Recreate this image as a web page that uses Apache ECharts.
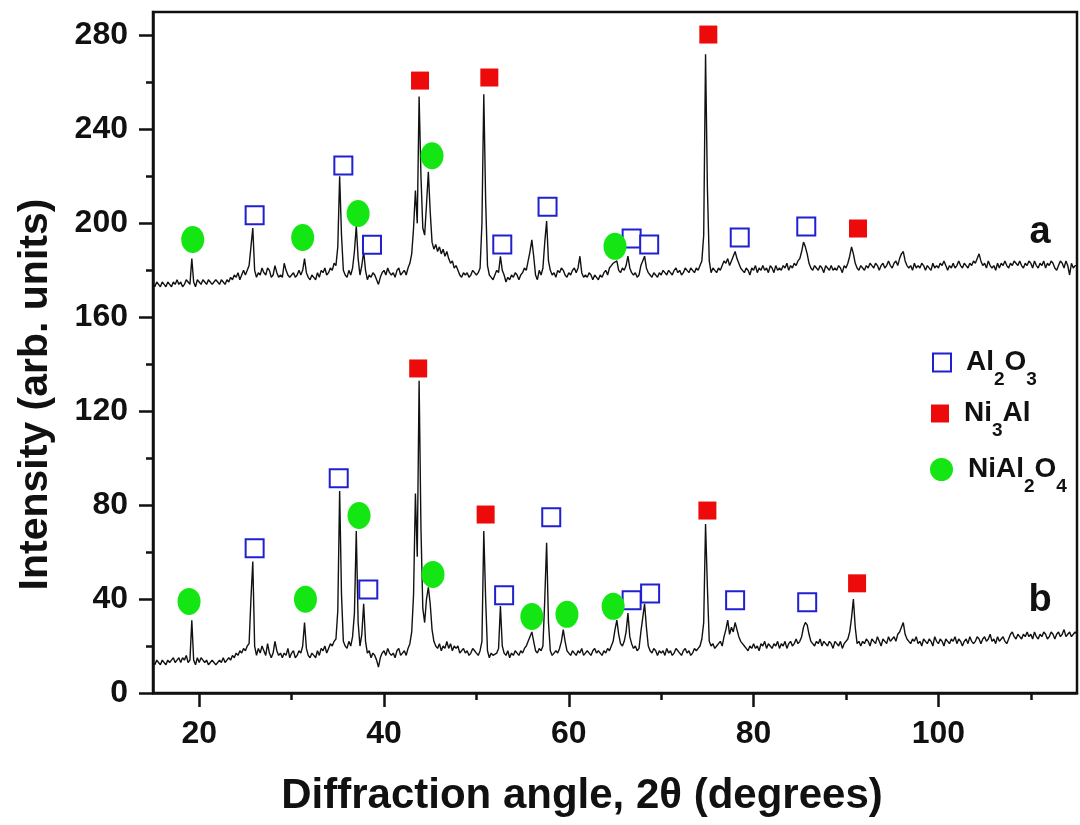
<!DOCTYPE html>
<html><head><meta charset="utf-8">
<script src="https://cdn.jsdelivr.net/npm/echarts@6/dist/echarts.min.js"></script>
<style>html,body{margin:0;padding:0;background:#fff}#chart{width:1080px;height:825px}</style>
</head><body><div id="chart"></div>
<script>
// Diffraction angles (2θ, degrees) of the scan
const angles = [
15,15.2,15.4,15.6,15.8, 16,16.2,16.4,16.6,16.8, 17,17.2,17.4,17.6,17.8, 18,18.2,18.4,18.6,18.8, 19,19.2,19.4,19.6,19.8,
20,20.2,20.4,20.6,20.8, 21,21.2,21.4,21.6,21.8, 22,22.2,22.4,22.6,22.8, 23,23.2,23.4,23.6,23.8, 24,24.2,24.4,24.6,24.8,
25,25.2,25.4,25.6,25.8, 26,26.2,26.4,26.6,26.8, 27,27.2,27.4,27.6,27.8, 28,28.2,28.4,28.6,28.8, 29,29.2,29.4,29.6,29.8,
30,30.2,30.4,30.6,30.8, 31,31.2,31.4,31.6,31.8, 32,32.2,32.4,32.6,32.8, 33,33.2,33.4,33.6,33.8, 34,34.2,34.4,34.6,34.8,
35,35.2,35.4,35.6,35.8, 36,36.2,36.4,36.6,36.8, 37,37.2,37.4,37.6,37.8, 38,38.2,38.4,38.6,38.8, 39,39.2,39.4,39.6,39.8,
40,40.2,40.4,40.6,40.8, 41,41.2,41.4,41.6,41.8, 42,42.2,42.4,42.6,42.8, 43,43.2,43.4,43.6,43.8, 44,44.2,44.4,44.6,44.8,
45,45.2,45.4,45.6,45.8, 46,46.2,46.4,46.6,46.8, 47,47.2,47.4,47.6,47.8, 48,48.2,48.4,48.6,48.8, 49,49.2,49.4,49.6,49.8,
50,50.2,50.4,50.6,50.8, 51,51.2,51.4,51.6,51.8, 52,52.2,52.4,52.6,52.8, 53,53.2,53.4,53.6,53.8, 54,54.2,54.4,54.6,54.8,
55,55.2,55.4,55.6,55.8, 56,56.2,56.4,56.6,56.8, 57,57.2,57.4,57.6,57.8, 58,58.2,58.4,58.6,58.8, 59,59.2,59.4,59.6,59.8,
60,60.2,60.4,60.6,60.8, 61,61.2,61.4,61.6,61.8, 62,62.2,62.4,62.6,62.8, 63,63.2,63.4,63.6,63.8, 64,64.2,64.4,64.6,64.8,
65,65.2,65.4,65.6,65.8, 66,66.2,66.4,66.6,66.8, 67,67.2,67.4,67.6,67.8, 68,68.2,68.4,68.6,68.8, 69,69.2,69.4,69.6,69.8,
70,70.2,70.4,70.6,70.8, 71,71.2,71.4,71.6,71.8, 72,72.2,72.4,72.6,72.8, 73,73.2,73.4,73.6,73.8, 74,74.2,74.4,74.6,74.8,
75,75.2,75.4,75.6,75.8, 76,76.2,76.4,76.6,76.8, 77,77.2,77.4,77.6,77.8, 78,78.2,78.4,78.6,78.8, 79,79.2,79.4,79.6,79.8,
80,80.2,80.4,80.6,80.8, 81,81.2,81.4,81.6,81.8, 82,82.2,82.4,82.6,82.8, 83,83.2,83.4,83.6,83.8, 84,84.2,84.4,84.6,84.8,
85,85.2,85.4,85.6,85.8, 86,86.2,86.4,86.6,86.8, 87,87.2,87.4,87.6,87.8, 88,88.2,88.4,88.6,88.8, 89,89.2,89.4,89.6,89.8,
90,90.2,90.4,90.6,90.8, 91,91.2,91.4,91.6,91.8, 92,92.2,92.4,92.6,92.8, 93,93.2,93.4,93.6,93.8, 94,94.2,94.4,94.6,94.8,
95,95.2,95.4,95.6,95.8, 96,96.2,96.4,96.6,96.8, 97,97.2,97.4,97.6,97.8, 98,98.2,98.4,98.6,98.8, 99,99.2,99.4,99.6,99.8,
100,100.2,100.4,100.6,100.8, 101,101.2,101.4,101.6,101.8, 102,102.2,102.4,102.6,102.8, 103,103.2,103.4,103.6,103.8, 104,104.2,104.4,104.6,104.8,
105,105.2,105.4,105.6,105.8, 106,106.2,106.4,106.6,106.8, 107,107.2,107.4,107.6,107.8, 108,108.2,108.4,108.6,108.8, 109,109.2,109.4,109.6,109.8,
110,110.2,110.4,110.6,110.8, 111,111.2,111.4,111.6,111.8, 112,112.2,112.4,112.6,112.8, 113,113.2,113.4,113.6,113.8, 114,114.2,114.4,114.6,114.8,
115
];

// Pattern "a" (upper trace), intensity in arb. units
const intensityA = [
174,173,175,174,173, 175,174,173,175,174, 173,175,174,176,174, 175,173,174,176,175, 174,185,175,173,176,
175,174,176,175,174, 176,175,174,175,176, 175,174,176,175,174, 176,175,177,176,178, 177,179,176,178,180,
178,180,182,190,198, 180,177,179,178,181, 179,178,181,180,177, 178,182,179,177,178, 177,183,180,178,177,
178,179,177,178,180, 178,180,185,179,177, 176,178,177,176,179, 177,180,179,181,178, 179,181,180,183,182,
190,220,195,180,178, 177,180,178,181,188, 199,185,178,182,188, 180,176,178,177,179, 178,176,174,177,179,
180,178,181,179,178, 179,177,180,181,178, 179,180,178,181,183, 187,198,214,200,254, 220,198,195,208,222,
205,192,189,191,188, 190,187,189,186,188, 185,183,184,181,182, 180,178,177,179,178, 179,177,178,180,179,
178,179,181,200,255, 210,182,178,177,176, 178,180,179,186,180, 178,175,177,176,178, 177,179,178,176,178,
179,181,180,184,188, 193,186,178,176,180, 178,181,192,201,184, 180,178,179,177,180, 179,181,180,178,177,
179,178,180,181,179, 181,186,179,177,178, 177,179,178,176,178, 177,176,178,177,179, 180,178,181,182,183,
183,184,180,179,181, 180,182,186,181,179, 178,179,177,178,182, 184,186,181,179,178, 177,179,178,177,179,
178,180,179,178,180, 179,178,180,181,179, 180,178,179,181,180, 179,181,180,179,181, 180,182,184,195,272,
215,184,179,181,180, 179,181,180,182,184, 183,185,182,184,186, 188,185,183,181,180, 179,181,180,178,181,
180,182,179,181,180, 182,180,181,179,182, 181,179,182,180,181, 180,182,181,183,180, 182,181,183,182,184,
185,188,192,190,187, 183,181,180,182,181, 180,182,181,179,182, 181,180,182,180,181, 180,182,181,179,182,
181,183,186,190,187, 183,181,180,182,181, 180,182,181,183,182, 181,183,182,180,182, 183,181,182,184,182,
181,183,184,182,185, 187,188,184,182,181, 182,180,183,181,182, 181,183,182,180,182, 182,180,183,181,182,
181,183,182,184,182, 180,182,181,183,181, 182,184,182,181,183, 182,181,183,182,184, 183,185,187,184,182,
183,181,184,182,181, 182,180,183,181,183, 182,184,182,181,183, 182,184,183,182,184, 182,181,183,182,184,
183,181,184,182,181, 183,182,184,181,183, 182,184,183,181,180, 182,184,183,181,184, 182,178,183,181,182,
182
];

// Pattern "b" (lower trace), intensity in arb. units
const intensityB = [
13,12,14,13,12, 14,13,12,14,13, 14,15,13,14,15, 13,15,14,16,13, 14,31,14,12,15,
13,15,14,13,14, 12,13,14,13,12, 13,14,13,15,13, 14,15,14,16,15, 17,16,18,17,19,
18,20,21,40,56, 20,16,19,17,20, 18,16,21,17,15, 17,22,18,16,17, 15,17,16,19,15,
17,18,15,16,18, 17,20,30,19,16, 15,17,16,15,18, 16,19,18,20,17, 19,21,20,22,23,
35,86,42,22,20, 19,22,20,24,34, 69,30,20,25,38, 22,17,18,15,17, 16,14,11,15,17,
18,16,19,17,16, 17,15,18,19,16, 17,18,16,19,21, 26,42,85,58,133, 70,36,30,40,45,
38,27,22,20,19, 21,18,20,19,22, 19,21,18,20,19, 20,17,18,19,17, 18,16,17,19,18,
17,16,18,22,69, 40,18,15,17,16, 16,17,19,37,20, 17,16,18,15,17, 16,18,17,16,18,
17,19,20,22,24, 26,22,18,17,19, 18,20,40,64,30, 18,16,17,18,17, 19,22,27,22,18,
17,16,18,17,16, 18,17,19,16,17, 18,17,16,18,19, 17,18,17,16,18, 17,19,18,20,22,
27,31,25,21,20, 22,26,34,24,21, 19,20,18,19,26, 32,38,28,20,18, 17,19,18,16,18,
17,18,16,19,17, 18,16,17,19,18, 17,16,18,19,17, 18,16,17,19,18, 19,20,23,30,72,
45,22,20,21,19, 20,21,22,20,24, 27,31,25,28,26, 30,27,24,22,21, 20,19,18,20,19,
21,19,20,18,21, 20,22,19,21,20, 19,21,20,22,19, 21,20,22,19,21, 22,20,21,23,21,
22,24,28,30,29, 25,22,21,20,22, 21,23,20,22,21, 20,22,21,19,22, 21,20,22,19,21,
21,23,26,32,40, 28,21,22,20,22, 21,23,22,20,23, 22,21,24,22,20, 23,22,21,24,22,
23,24,22,25,26, 28,30,25,23,22, 21,23,22,24,21, 22,20,23,22,21, 23,22,20,24,22,
21,23,22,20,23, 22,21,23,22,24, 21,23,22,20,22, 23,21,24,22,21, 22,24,23,21,23,
24,22,23,25,22, 23,21,24,22,23, 24,22,21,23,25, 26,24,23,25,24, 23,25,24,26,24,
25,23,26,24,23, 25,24,26,25,23, 24,26,25,23,25, 26,24,25,27,24, 25,26,24,25,26,
25
];

// Phase identification markers [2θ, intensity]
const al2o3Peaks = [
  [26.0,203.4],[35.6,224.6],[38.7,190.9],[52.8,191],[57.7,207.1],[66.8,193.5],[68.7,191],[78.5,194],[85.7,198.7],
  [26.0,61.6],[35.1,91.4],[38.3,44.1],[53.0,41.6],[58.1,74.8],[66.8,39.5],[68.8,42.4],[78.0,39.5],[85.8,38.6]
];
const ni3alPeaks = [
  [43.9,260.8],[51.4,262.1],[75.1,280.4],[91.3,197.8],
  [43.7,138.2],[51.0,76.0],[75.0,77.7],[91.2,46.7]
];
const nial2o4Peaks = [
  [19.3,193.1],[31.2,194],[37.2,204.2],[45.2,228.8],[65.0,190.2],
  [18.9,39],[31.5,39.9],[37.3,75.6],[45.3,50.5],[56.0,32.6],[59.8,33.5],[64.8,36.9]
];
const curveTags = [{name:'a', value:[111.0,196.1]},{name:'b', value:[111.0,39.5]}];

const xMajorTicks = [20,40,60,80,100];
const xMinorTicks = [30,50,70,90,110];
const yMajorTicks = [0,40,80,120,160,200,240,280];
const yMinorTicks = [20,60,100,140,180,220,260];
const phaseNames = ['Al2O3','Ni3Al','NiAl2O4'];

const FONT = 'Liberation Sans, Arial, sans-serif';
const INK = '#111';
const ellipsePath = 'path://M0,10 A10,10 0 1,1 20,10 A10,10 0 1,1 0,10 Z';

function chemRich(name){
  return name.split(/(\d)/).filter(Boolean).map(p => /\d/.test(p) ? '{s|'+p+'}' : '{n|'+p+'}').join('');
}
const legendText = {
  fontFamily: FONT, padding:[0,0,0,10],
  rich: {
    n: {fontFamily: FONT, fontSize: 28, fontWeight: 'bold', color: INK, lineHeight: 30},
    s: {fontFamily: FONT, fontSize: 19, fontWeight: 'bold', color: INK, lineHeight: 19, padding:[34,0,0,0]}
  }
};
function mkLegend(name, left, top, w, h, icon){
  return {data:[{name:name, icon:icon}], left:left, top:top, itemWidth:w, itemHeight:h,
    orient:'vertical', padding:0, formatter: chemRich, textStyle: legendText, selectedMode:false};
}

const xy = (arr) => angles.map((x,i)=>[x, arr[i]]);

const axisFont = {fontFamily: FONT, fontWeight:'bold', color: INK};
const option = {
  animation: false,
  backgroundColor: '#fff',
  grid: {left:153, right:3, top:12, bottom:132, show:true, borderColor:INK, borderWidth:2.5, backgroundColor:'transparent'},
  xAxis: [
    {type:'value', min:15, max:115, position:'bottom',
     axisLine:{show:true, onZero:false, lineStyle:{color:INK, width:2.5}},
     axisTick:{show:true, length:14, lineStyle:{color:INK, width:2.5}, customValues:xMajorTicks},
     axisLabel:{customValues:xMajorTicks, margin:25, fontSize:32, ...axisFont},
     splitLine:{show:false},
     name:'Diffraction angle, 2θ (degrees)', nameLocation:'middle', nameGap:82,
     nameTextStyle:{fontSize:42, padding:[0,66,0,0], ...axisFont}},
    {type:'value', min:15, max:115, position:'bottom',
     axisLine:{show:false, onZero:false},
     axisTick:{show:true, length:7, lineStyle:{color:INK, width:2.5}, customValues:xMinorTicks},
     axisLabel:{show:false}, splitLine:{show:false}}
  ],
  yAxis: [
    {type:'value', min:0, max:290, position:'left',
     axisLine:{show:true, onZero:false, lineStyle:{color:INK, width:2.5}},
     axisTick:{show:true, length:14, lineStyle:{color:INK, width:2.5}, customValues:yMajorTicks},
     axisLabel:{customValues:yMajorTicks, margin:25, fontSize:32, ...axisFont},
     splitLine:{show:false},
     name:'Intensity (arb. units)', nameLocation:'middle', nameGap:97, nameRotate:90,
     nameTextStyle:{fontSize:41, padding:[0,84,0,0], ...axisFont}},
    {type:'value', min:0, max:290, position:'left',
     axisLine:{show:false, onZero:false},
     axisTick:{show:true, length:7, lineStyle:{color:INK, width:2.5}, customValues:yMinorTicks},
     axisLabel:{show:false}, splitLine:{show:false}}
  ],
  legend: [
    mkLegend(phaseNames[0], 932, 336, 18, 18, 'rect'),
    mkLegend(phaseNames[1], 931, 387, 18, 18, 'rect'),
    mkLegend(phaseNames[2], 930, 443, 23, 27, ellipsePath)
  ],
  series: [
    {type:'line', name:'a', data: xy(intensityA), showSymbol:false, symbol:'none', silent:true,
     lineStyle:{color:INK, width:1.4}, z:2},
    {type:'line', name:'b', data: xy(intensityB), showSymbol:false, symbol:'none', silent:true,
     lineStyle:{color:INK, width:1.4}, z:2},
    {type:'scatter', name:phaseNames[0], data: al2o3Peaks, symbol:'rect', symbolSize:18,
     itemStyle:{color:'#fff', borderColor:'#2020d0', borderWidth:2, opacity:1}, z:5},
    {type:'scatter', name:phaseNames[1], data: ni3alPeaks, symbol:'rect', symbolSize:18,
     itemStyle:{color:'#ec0a0a', opacity:1}, z:5},
    {type:'scatter', name:phaseNames[2], data: nial2o4Peaks, symbol:ellipsePath, symbolSize:[23,27],
     itemStyle:{color:'#14e614', opacity:1}, z:5},
    {type:'scatter', name:'tags', data: curveTags, symbolSize:1, itemStyle:{color:'rgba(0,0,0,0)', opacity:1}, silent:true,
     label:{show:true, position:'inside', formatter:'{b}', fontSize:38, fontFamily:FONT, fontWeight:'bold', color:INK}, z:6}
  ]
};
const chart = echarts.init(document.getElementById('chart'), null, {renderer:'canvas'});
chart.setOption(option);
</script>
</body></html>
